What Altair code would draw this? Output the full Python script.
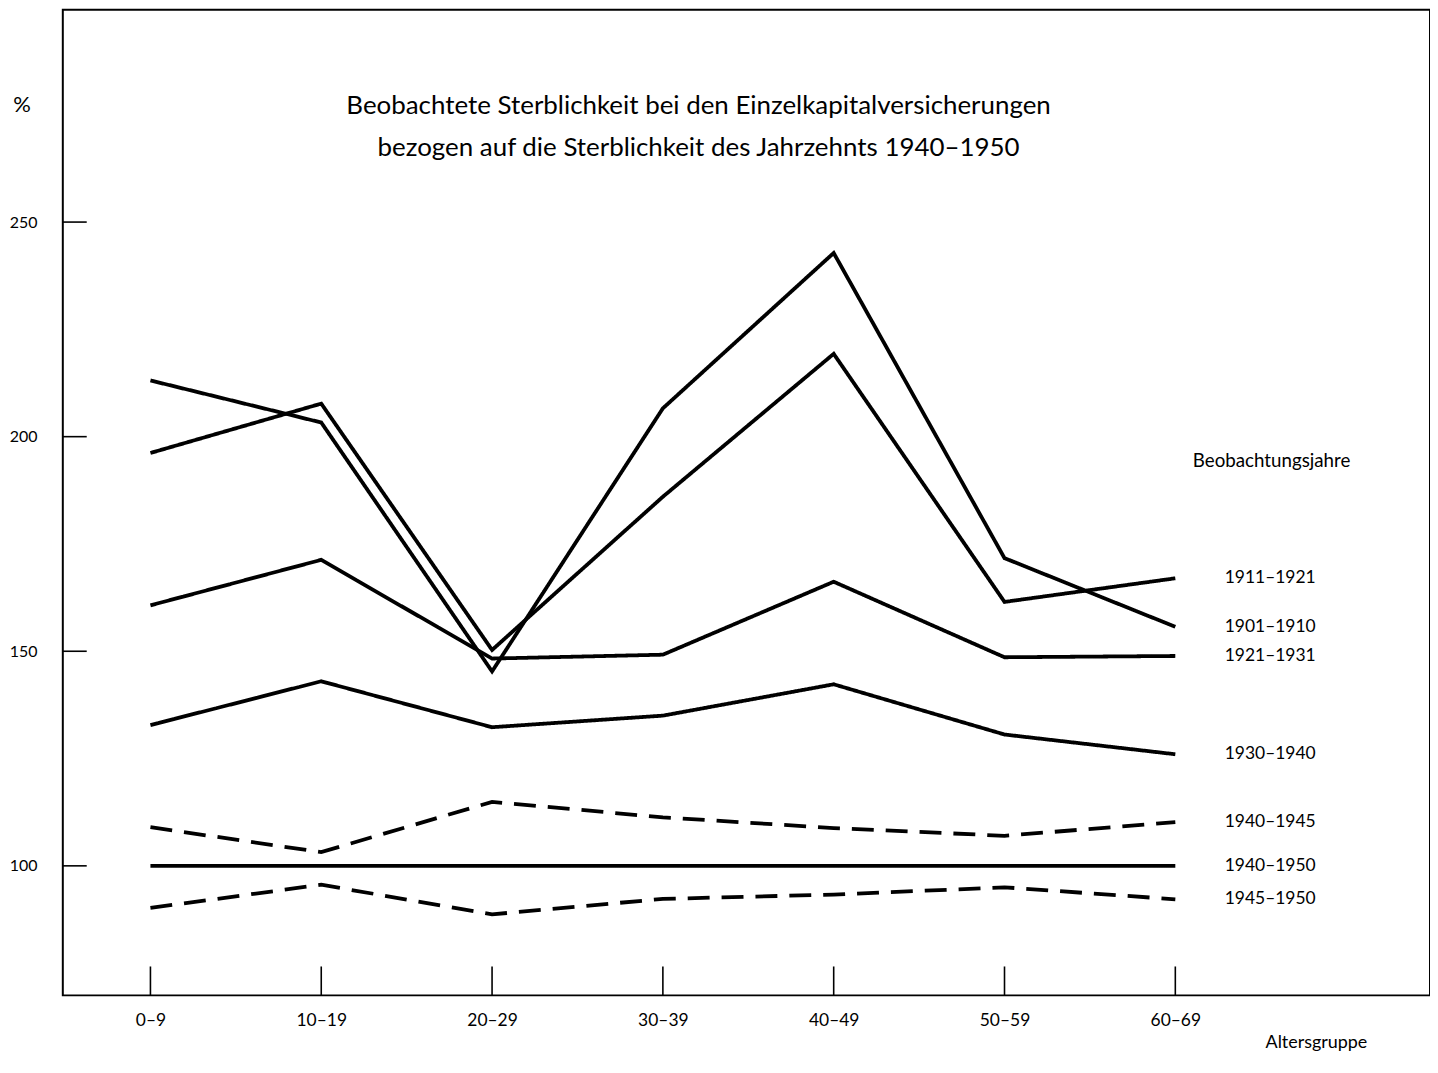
import json
import altair as alt
import pandas as pd

# ---- data ----
age_groups = ["0–9", "10–19", "20–29", "30–39", "40–49", "50–59", "60–69"]

series_names = ["1911–1921", "1901–1910", "1921–1931", "1930–1940",
                "1940–1945", "1940–1950", "1945–1950"]
series_dashed = [False, False, False, False, True, False, True]

v_1911_1921 = [196.2, 207.7, 150.3, 186.0, 219.3, 161.5, 167.0]
v_1901_1910 = [213.1, 203.3, 145.3, 206.6, 242.8, 171.7, 155.7]
v_1921_1931 = [160.7, 171.3, 148.3, 149.2, 166.2, 148.6, 148.9]
v_1930_1940 = [132.8, 143.0, 132.3, 135.0, 142.3, 130.6, 126.0]
v_1940_1945 = [109.0, 103.2, 114.9, 111.3, 108.8, 107.0, 110.2]
v_1940_1950 = [100.0, 100.0, 100.0, 100.0, 100.0, 100.0, 100.0]
v_1945_1950 = [90.2, 95.6, 88.7, 92.3, 93.3, 95.0, 92.2]

series_values = [v_1911_1921, v_1901_1910, v_1921_1931, v_1930_1940,
                 v_1940_1945, v_1940_1950, v_1945_1950]

y_ticks = [100, 150, 200, 250]

title_lines = ["Beobachtete Sterblichkeit bei den Einzelkapitalversicherungen",
               "bezogen auf die Sterblichkeit des Jahrzehnts 1940–1950"]
legend_title = "Beobachtungsjahre"
x_title = "Altersgruppe"
y_unit = "%"

# ---- tables ----
rows = []
for name, dashed, vals in zip(series_names, series_dashed, series_values):
    for i, v in enumerate(vals):
        rows.append({"series": name, "idx": i, "age": age_groups[i], "value": v,
                     "style": "dashed" if dashed else "solid"})
df = pd.DataFrame(rows)
last = df[df["idx"] == len(age_groups) - 1]
xt = pd.DataFrame({"idx": list(range(len(age_groups)))})
yt = pd.DataFrame({"value": y_ticks})

W, H = 1372, 989
FONT = "Lato"
X_DOMAIN = [-0.513, 7.491]
Y_DOMAIN = [69.82, 299.45]

xs = alt.Scale(domain=X_DOMAIN, nice=False, zero=False)
ys = alt.Scale(domain=Y_DOMAIN, nice=False, zero=False)

label_expr = json.dumps(age_groups, ensure_ascii=False) + "[datum.value]"

lines = alt.Chart(df).mark_line(color="black", strokeWidth=3.8, strokeCap="butt",
                                strokeJoin="miter").encode(
    x=alt.X("idx:Q", scale=xs,
            axis=alt.Axis(values=list(range(len(age_groups))), labelExpr=label_expr,
                          title=None, ticks=False, domain=False, grid=False,
                          labelFont=FONT, labelFontSize=17.5, labelColor="black",
                          labelPadding=16)),
    y=alt.Y("value:Q", scale=ys,
            axis=alt.Axis(values=y_ticks, title=None, ticks=False, domain=False,
                          grid=False, labelFont=FONT, labelFontSize=16,
                          labelColor="black", labelPadding=26)),
    detail="series:N",
    strokeDash=alt.StrokeDash("style:N",
                              scale=alt.Scale(domain=["solid", "dashed"],
                                              range=[[1, 0], [22, 12]]),
                              legend=None),
)

xticks = alt.Chart(xt).mark_rule(color="black", strokeWidth=1.6).encode(
    x=alt.X("idx:Q", scale=xs),
    y=alt.value(H - 29), y2=alt.value(H))

yticks = alt.Chart(yt).mark_rule(color="black", strokeWidth=1.6).encode(
    y=alt.Y("value:Q", scale=ys),
    x=alt.value(0), x2=alt.value(24))

end_labels = alt.Chart(last).mark_text(align="left", baseline="middle", font=FONT,
                                       fontSize=17.5, color="black").encode(
    y=alt.Y("value:Q", scale=ys), x=alt.value(1166), text="series:N")

def note(text, x, y, size, align="center"):
    return alt.Chart(pd.DataFrame({"t": [text]})).mark_text(
        align=align, baseline="middle", font=FONT, fontSize=size, color="black"
    ).encode(x=alt.value(x), y=alt.value(y), text="t:N")

title1 = note(title_lines[0], 638, 97, 26)
title2 = note(title_lines[1], 638, 139, 26)
legend_t = note(legend_title, 1134, 453, 18.8, "left")
xlab = note(x_title, 1258, 1037, 18)
ylab = note(y_unit, -41, 96, 22)

chart = alt.layer(lines, xticks, yticks, end_labels, title1, title2, legend_t,
                  xlab, ylab).properties(
    width=W, height=H,
    autosize=alt.AutoSizeParams(type="none"),
    padding={"left": 55, "top": 0, "right": 0, "bottom": 61},
    background="white",
).configure_view(stroke="black", strokeWidth=2)

chart.save("out.html", embed_options={"renderer": "svg", "actions": False})
